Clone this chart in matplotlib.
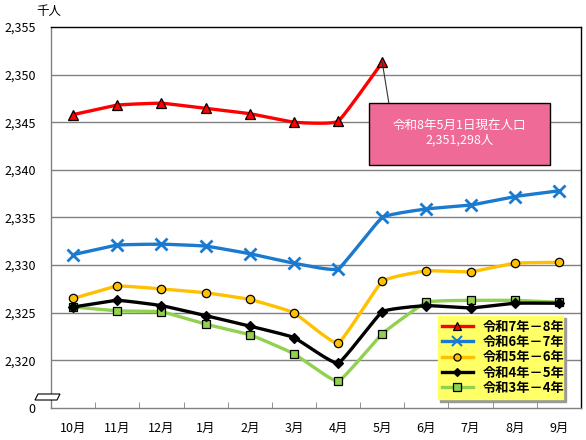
import numpy as np
import matplotlib.pyplot as plt
from matplotlib.patches import Rectangle, Polygon

plt.rcParams['font.family'] = ['Noto Sans CJK JP', 'DejaVu Sans']

months = ['10月', '11月', '12月', '1月', '2月', '3月', '4月', '5月', '6月', '7月', '8月', '9月']

r7_8 = [2345.8, 2346.8, 2347.0, 2346.45, 2345.9, 2345.0, 2345.1, 2351.298]
r6_7 = [2331.1, 2332.1, 2332.2, 2332.0, 2331.2, 2330.2, 2329.6, 2335.0, 2335.9, 2336.3, 2337.2, 2337.8]
r5_6 = [2326.5, 2327.8, 2327.5, 2327.1, 2326.4, 2325.0, 2321.8, 2328.3, 2329.4, 2329.3, 2330.2, 2330.3]
r4_5 = [2325.6, 2326.3, 2325.75, 2324.7, 2323.6, 2322.4, 2319.7, 2325.1, 2325.75, 2325.5, 2326.0, 2326.0]
r3_4 = [2325.6, 2325.2, 2325.1, 2323.8, 2322.7, 2320.7, 2317.8, 2322.8, 2326.1, 2326.3, 2326.3, 2326.1]

yticks = [2315, 2320, 2325, 2330, 2335, 2340, 2345, 2350, 2355]
ylabels = ['0', '2,320', '2,325', '2,330', '2,335', '2,340', '2,345', '2,350', '2,355']


def smooth(y, n=20, k=0.17):
    # cardinal spline through the points, mild curvature like Excel's smoothed line
    y = np.asarray(y, float)
    x = np.arange(len(y), dtype=float)
    px = np.concatenate([[x[0]], x, [x[-1]]])
    py = np.concatenate([[y[0]], y, [y[-1]]])
    xs, ys = [], []
    t = np.linspace(0, 1, n, endpoint=False)
    h00 = 2 * t ** 3 - 3 * t ** 2 + 1
    h10 = t ** 3 - 2 * t ** 2 + t
    h01 = -2 * t ** 3 + 3 * t ** 2
    h11 = t ** 3 - t ** 2
    for i in range(1, len(px) - 2):
        for p, out in ((px, xs), (py, ys)):
            m1 = k * (p[i + 1] - p[i - 1])
            m2 = k * (p[i + 2] - p[i])
            out.extend(h00 * p[i] + h10 * m1 + h01 * p[i + 1] + h11 * m2)
    xs.append(x[-1]); ys.append(y[-1])
    return np.array(xs), np.array(ys)


fig = plt.figure(figsize=(5.86, 4.40), dpi=100, facecolor='white')
ax = fig.add_axes([51 / 586, 32 / 440, 530 / 586, 381 / 440])

series = [
    ('令和7年－8年', r7_8, '#FF0000', '^', '#FF0000', 'black', 7),
    ('令和6年－7年', r6_7, '#1A7AD0', 'x', '#1A7AD0', '#1A7AD0', 8),
    ('令和5年－6年', r5_6, '#FFC000', 'o', '#FFC000', 'black', 6),
    ('令和4年－5年', r4_5, '#000000', 'D', '#000000', 'black', 5),
    ('令和3年－4年', r3_4, '#92D050', 's', '#92D050', 'black', 6),
]

handles = []
for name, vals, col, mk, mfc, mec, ms in reversed(series):
    sx, sy = smooth(vals)
    ax.plot(sx, sy, color=col, lw=2.4, zorder=3, solid_capstyle='round')
    ax.plot(range(len(vals)), vals, linestyle='none', marker=mk, markersize=ms,
            markerfacecolor=mfc, markeredgecolor=mec,
            markeredgewidth=2 if mk == 'x' else 0.9, zorder=4)
for name, vals, col, mk, mfc, mec, ms in series:
    h, = ax.plot([], [], color=col, lw=2.4, marker=mk, markersize=ms * 0.85,
                 markerfacecolor=mfc, markeredgecolor=mec,
                 markeredgewidth=1.5 if mk == 'x' else 0.9, label=name)
    handles.append(h)

ax.set_xlim(-0.5, 11.5)
ax.set_ylim(2315, 2355)
ax.set_xticks(range(12))
ax.set_xticklabels(months, fontsize=9)
ax.set_xticks(np.arange(-0.5, 12, 1), minor=True)
ax.tick_params(axis='x', which='major', length=0, pad=10)
ax.tick_params(axis='x', which='minor', direction='in', length=4, color='#808080')
ax.set_yticks(yticks)
ax.set_yticklabels(ylabels, fontsize=9)
ax.tick_params(axis='y', length=0, pad=11)

for v in yticks[1:-1]:
    ax.axhline(v, color='#808080', lw=1, zorder=1)
ax.spines['top'].set_color('black')
ax.spines['right'].set_color('black')
ax.spines['left'].set_color('#808080')
ax.spines['bottom'].set_color('#808080')
for s in ax.spines.values():
    s.set_linewidth(1)

fig.text(36 / 586, 1 - 12 / 440, '千人', fontsize=9, va='center')

# axis break mark
fig.patches.append(Polygon([[35 / 586, 1 - 400 / 440], [57 / 586, 1 - 400 / 440],
                            [60 / 586, 1 - 394 / 440], [38 / 586, 1 - 394 / 440]],
                           closed=True, transform=fig.transFigure, facecolor='white',
                           edgecolor='black', lw=0.8))

# callout for the latest value
bx0, bx1 = 6.7, 10.8
by0, by1 = 2340.5, 2347.0
ax.plot([7, 7.15], [r7_8[-1], by1], color='#333333', lw=0.8, zorder=5)
ax.add_patch(Rectangle((bx0, by0), bx1 - bx0, by1 - by0, facecolor='#F06A98',
                       edgecolor='black', lw=1, zorder=6))
ax.text((bx0 + bx1) / 2, (by0 + by1) / 2 + 0.1, '令和8年5月1日現在人口\n2,351,298人',
        ha='center', va='center', color='white', fontsize=9, linespacing=1.05, zorder=7)

leg = ax.legend(handles=handles, loc='upper left',
                bbox_to_anchor=(380 / 530, 18 / 381, 139 / 530, 81 / 381), mode='expand',
                prop={'weight': 'bold', 'size': 9.5},
                frameon=True, fancybox=False, shadow={'color': '#999999', 'alpha': 1},
                handlelength=2.4, borderpad=0.3, labelspacing=0.1, handletextpad=0.7)
leg.get_frame().set_facecolor('#FFFF66')
leg.get_frame().set_edgecolor('#FFFF66')
leg.get_frame().set_alpha(1)
leg.set_zorder(8)

fig.savefig('out.png', dpi=100, facecolor='white')
